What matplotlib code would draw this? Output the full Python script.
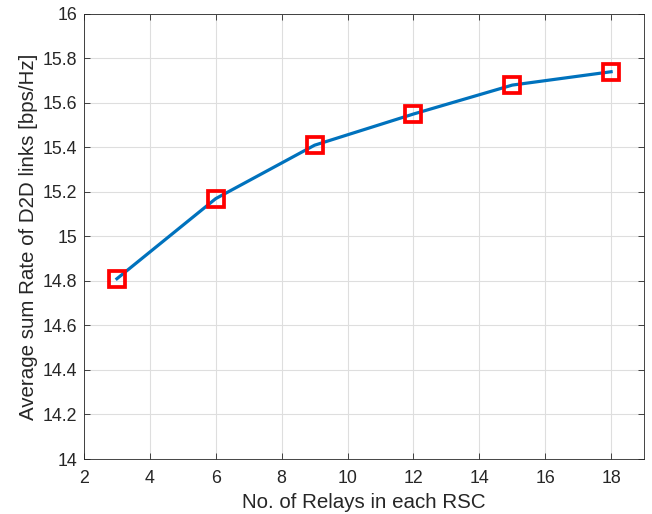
import matplotlib
matplotlib.use('Agg')
from matplotlib import pyplot as plt

relays = [3, 6, 9, 12, 15, 18]
rate = [14.81, 15.17, 15.41, 15.55, 15.68, 15.74]
xticks = [2, 4, 6, 8, 10, 12, 14, 16, 18]
yticks = [14, 14.2, 14.4, 14.6, 14.8, 15, 15.2, 15.4, 15.6, 15.8, 16]

plt.rcParams['font.family'] = ['Liberation Sans', 'DejaVu Sans']

fig = plt.figure(figsize=(6.52, 5.14), dpi=100)
ax = fig.add_axes([0.1288, 0.107, 0.859, 0.866])

ax.plot(relays, rate, color=(0, 0.447, 0.741), linewidth=2.3,
        marker='s', markersize=12, markerfacecolor='none',
        markeredgecolor='red', markeredgewidth=2.7)

ax.set_xlim(2, 19)
ax.set_ylim(14, 16)
ax.set_xticks(xticks)
ax.set_yticks(yticks)
ax.set_yticklabels(['14', '14.2', '14.4', '14.6', '14.8', '15', '15.2',
                    '15.4', '15.6', '15.8', '16'])
ax.grid(True, color='#dedede', linewidth=0.8)
ax.set_axisbelow(True)
ax.tick_params(direction='in', length=4, width=0.6, labelsize=12.8,
               colors='#262626', top=True, right=True)
ax.tick_params(axis='x', pad=8)
ax.tick_params(axis='y', pad=5)
for s in ax.spines.values():
    s.set_color('#262626')
    s.set_linewidth(0.6)

ax.set_xlabel('No. of Relays in each RSC', fontsize=14.8, color='#262626',
              labelpad=4)
ax.set_ylabel('Average sum Rate of D2D links [bps/Hz]', fontsize=14.8,
              color='#262626', labelpad=3)

fig.savefig('out.png', dpi=100)
